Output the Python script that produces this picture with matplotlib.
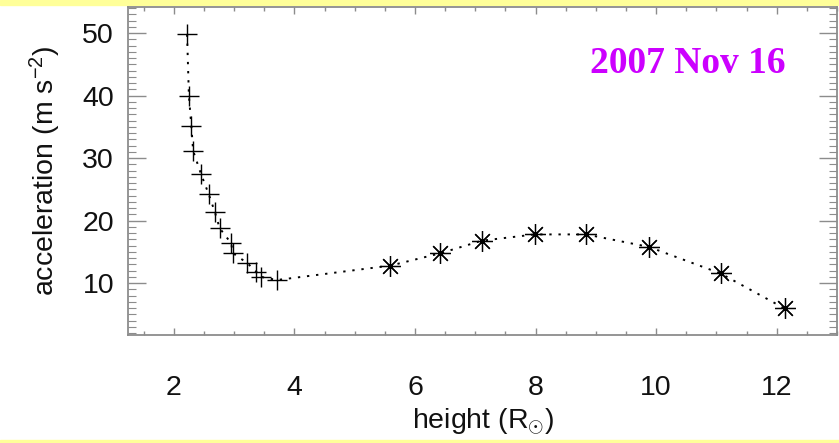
import matplotlib.pyplot as plt
from matplotlib.ticker import MultipleLocator
from matplotlib.patches import Rectangle

# plus markers (inner region)
h_plus = [2.22, 2.25, 2.29, 2.32, 2.45, 2.58, 2.68, 2.76, 2.95, 2.98, 3.22, 3.37, 3.45, 3.71]
a_plus = [49.8, 40.0, 35.2, 31.2, 27.5, 24.2, 21.4, 18.8, 16.4, 14.8, 13.2, 11.8, 11.0, 10.5]
# asterisk markers (outer region)
h_star = [5.59, 6.41, 7.11, 7.99, 8.84, 9.88, 11.07, 12.13]
a_star = [12.8, 14.75, 16.8, 17.8, 17.8, 15.8, 11.55, 5.95]

plt.rcParams['font.family'] = ['Liberation Sans', 'DejaVu Sans']
plt.rcParams['mathtext.fontset'] = 'custom'
plt.rcParams['mathtext.rm'] = 'Liberation Sans'
plt.rcParams['mathtext.it'] = 'Liberation Sans:italic'

fig = plt.figure(figsize=(8.39, 4.43), dpi=100)
fig.patches.append(Rectangle((0, 1 - 5/443), 1, 5/443, transform=fig.transFigure,
                             color='#ffff99', zorder=-1))
fig.patches.append(Rectangle((0, 0), 1, 3/443, transform=fig.transFigure,
                             color='#ffff99', zorder=-1))
ax = fig.add_axes([128/839, 108/443, 709/839, 328/443])

ax.plot(h_plus + h_star, a_plus + a_star, color='black', lw=1.4, dashes=[1.2, 3.5])
ax.plot(h_plus, a_plus, '+', color='black', ms=14, mew=1.0)
ax.plot(h_star, a_star, ls='none', marker=(8, 2, 0), color='black', ms=15, mew=0.9)

ax.set_xlim(1.24, 13.0)
ax.set_ylim(1.7, 54.2)
ax.xaxis.set_major_locator(MultipleLocator(2))
ax.xaxis.set_minor_locator(MultipleLocator(0.5))
ax.yaxis.set_major_locator(MultipleLocator(10))
ax.yaxis.set_minor_locator(MultipleLocator(1))

grey = '#8c8c8c'
for s in ax.spines.values():
    s.set_color(grey)
    s.set_linewidth(1.3)
ax.tick_params(axis='both', which='both', direction='in', top=True, right=True,
               color=grey, labelsize=20.5, labelcolor='#111111')
ax.tick_params(axis='x', which='major', length=5, width=1, pad=29)
ax.tick_params(axis='x', which='minor', length=3, width=1)
ax.tick_params(axis='y', which='major', length=13, width=1, pad=10)
ax.tick_params(axis='y', which='minor', length=6, width=0.8)

ax.set_xlabel(r'height (R$_{\odot}$)', fontsize=20.5, color='#111111', labelpad=4)
ax.set_ylabel(r'acceleration (m s$^{-2}$)', fontsize=20.5, color='#111111', labelpad=14)

ax.text(8.9, 43.6, '2007 Nov 16', color='#cc00ff', fontsize=27, fontweight='bold',
        family='Liberation Serif', ha='left', va='baseline')

fig.savefig('out.png', dpi=100)
